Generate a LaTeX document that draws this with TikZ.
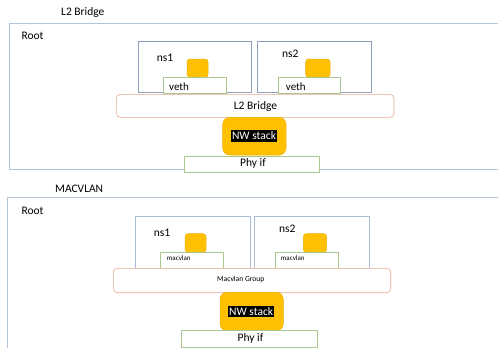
\documentclass[tikz,border=0pt]{standalone}
\usepackage{fontspec}
\setmainfont{Carlito}
\definecolor{rootblue}{RGB}{180,196,222}
\definecolor{nsblue}{RGB}{143,160,190}
\definecolor{nslight}{RGB}{170,188,220}
\definecolor{ifgreen}{RGB}{169,200,142}
\definecolor{grporange}{RGB}{232,170,140}
\definecolor{cpuorange}{RGB}{255,192,0}
\definecolor{cpuedge}{RGB}{236,178,0}
\begin{document}
\begin{tikzpicture}[x=1pt,y=-1pt,
    rootbox/.style={draw=rootblue,line width=.8pt},
    nsbox/.style={draw=nsblue,line width=.6pt},
    nsbox2/.style={draw=nslight,line width=.9pt},
    ifbox/.style={draw=ifgreen,fill=white,line width=.6pt},
    grpbox/.style={draw=grporange,fill=white,line width=.6pt,rounded corners=4pt},
    cpubox/.style={draw=cpuedge,fill=cpuorange,line width=.5pt,rounded corners=3pt},
    stackbox/.style={draw=cpuedge,fill=cpuorange,line width=.5pt,rounded corners=7pt},
    txt/.style={font=\fontsize{11.5}{13}\selectfont,inner sep=0pt,anchor=base west},
    smalltxt/.style={font=\fontsize{7}{8}\selectfont,inner sep=0pt,anchor=base west},
    hilite/.style={fill=black,text=white,font=\fontsize{11.5}{13}\selectfont,inner xsep=1pt,inner ysep=1.5pt}]
    \clip (0,0) rectangle (498,348);
    \fill[white] (0,0) rectangle (498,348);

    % top: L2 bridge
    \node[txt] (title1) at (61,15.7) {L2 Bridge};
    \draw[rootbox] (9,23) rectangle (505,169);
    \node[txt] (root1) at (21.3,39) {Root};

    \draw[nsbox] (138,41) rectangle (251.5,92);
    \draw[nsbox] (257.3,41) rectangle (371.7,92);
    \node[txt] (ns1a) at (156.7,61.7) {ns1};
    \node[txt] (ns2a) at (282,57.7) {ns2};

    \draw[cpubox] (187,59) rectangle (208,77.3);
    \draw[cpubox] (305.7,59) rectangle (330,77.3);

    \draw[ifbox] (163.3,77.3) rectangle (226,93.3);
    \draw[ifbox] (278,77.3) rectangle (340.7,93.3);
    \node[txt,font=\fontsize{11}{13}\selectfont] (veth1) at (169,90.3) {veth};
    \node[txt,font=\fontsize{11}{13}\selectfont] (veth2) at (285.7,90.3) {veth};

    \draw[grpbox] (116.3,94.3) rectangle (394,117.3);
    \node[txt,anchor=base] (bridge) at (255.5,109.3) {L2 Bridge};

    \draw[stackbox] (222.7,117.3) rectangle (286,155);
    \node[hilite] (stack1) at (254,136) {NW stack};

    \draw[ifbox] (184.3,156) rectangle (319.7,172.3);
    \node[txt,anchor=base] (phy1) at (253,166.7) {Phy if};

    % bottom: macvlan
    \node[txt] (title2) at (55,192.7) {MACVLAN};
    \draw[rootbox] (7.3,197.3) rectangle (505,355);
    \node[txt] (root2) at (21.3,214) {Root};

    \draw[nsbox2] (135,216) rectangle (250,268);
    \draw[nsbox2] (254,216) rectangle (369.3,268);
    \node[txt] (ns1b) at (153.7,236) {ns1};
    \node[txt] (ns2b) at (279,232.3) {ns2};

    \draw[cpubox] (185,233.7) rectangle (206,252.3);
    \draw[cpubox] (303.3,233.7) rectangle (326.7,252.3);

    \draw[ifbox] (160.3,252.3) rectangle (223.3,268.3);
    \draw[ifbox] (275,252.3) rectangle (338.3,268.3);
    \node[smalltxt] (mv1) at (166.7,260.3) {macvlan};
    \node[smalltxt] (mv2) at (280.7,260.3) {macvlan};

    \draw[grpbox] (113.3,268.3) rectangle (390.7,292.7);
    \node[smalltxt,font=\fontsize{7.6}{9}\selectfont] (group) at (217,281.5) {Macvlan Group};

    \draw[stackbox] (220,292.3) rectangle (283.3,330.7);
    \node[hilite] (stack2) at (251.2,311.7) {NW stack};

    \draw[ifbox] (181,330.3) rectangle (317.7,347.3);
    \node[txt,anchor=base] (phy2) at (250.5,341.7) {Phy if};
\end{tikzpicture}
\end{document}
